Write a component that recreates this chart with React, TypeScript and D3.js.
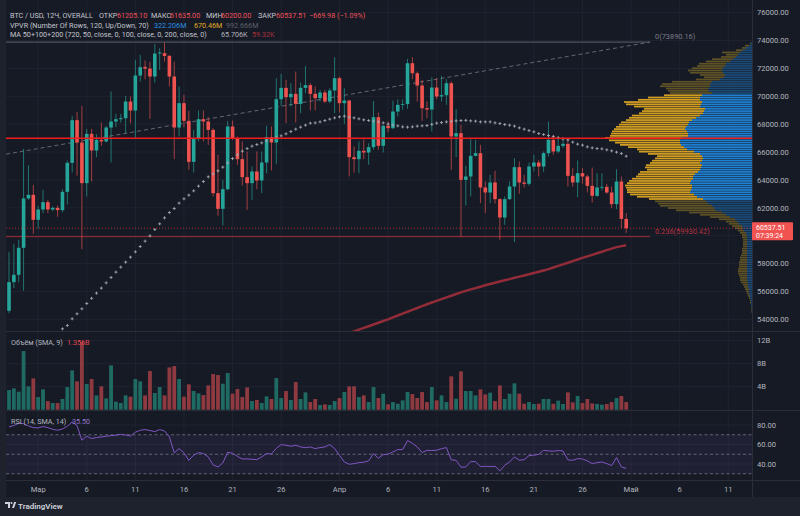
import React, { useEffect } from "react";
import * as d3 from "d3";

// [open, high, low, close] per 12h bar, first bar = 27 Feb 00:00
const candles: [number, number, number, number][] = [
  [54611, 58843, 54444, 56667], [56667, 59417, 56237, 57193], [57193, 59704, 56667, 59130], [59130, 66231, 56046, 62669],
  [62669, 65060, 62573, 62932], [62932, 63649, 60134, 61139], [61139, 62143, 60517, 61880], [61880, 63290, 61617, 62406],
  [62406, 62573, 61617, 61880], [61880, 62100, 61760, 61999], [61999, 62167, 61354, 61832], [61832, 63338, 61665, 63147],
  [63147, 65395, 62238, 65227], [65227, 68599, 64534, 68288], [68288, 68886, 64295, 66686], [66686, 69316, 59035, 63769],
  [63769, 67666, 62812, 67307], [67307, 67666, 63888, 66112], [66112, 67283, 65634, 66877], [66877, 68120, 66447, 66760],
  [66760, 67881, 66700, 67762], [67762, 70344, 65251, 68192], [68192, 68742, 67786, 68359], [68359, 68742, 68120, 68431],
  [68431, 70033, 67355, 69627], [69627, 69985, 68072, 68981], [68981, 72615, 67017, 71492], [71492, 72974, 71061, 72089],
  [72113, 72568, 71229, 71994], [71994, 72472, 68383, 71420], [71420, 73763, 70989, 73070], [73070, 73452, 71900, 73142],
  [73094, 73859, 72496, 72902], [72902, 72974, 70700, 71420], [71420, 72496, 65490, 67762], [67762, 70703, 67116, 69507],
  [69507, 70105, 67762, 68240], [68240, 68957, 64725, 65299], [65299, 67594, 64534, 66949], [66949, 68981, 66757, 68359],
  [68359, 68981, 66757, 68192], [68192, 68503, 66518, 67594], [67594, 67714, 62812, 63051], [63051, 65801, 61426, 61928],
  [61928, 64008, 60732, 63338], [63338, 68240, 63243, 67834], [67834, 68264, 66877, 66997], [66997, 67116, 65084, 65490],
  [65490, 66757, 63601, 64199], [64199, 66040, 61856, 63769], [63769, 64964, 62573, 64606], [64606, 66040, 63338, 63960],
  [63960, 66040, 63051, 65251], [65251, 67881, 64486, 67068], [67068, 67834, 64677, 66686], [66686, 71301, 65156, 69794],
  [69794, 71611, 69316, 70607], [70607, 71181, 68072, 69938], [69938, 70942, 69268, 70177], [70177, 71779, 68120, 69459],
  [69459, 70989, 68790, 70607], [70607, 72185, 70224, 70798], [70798, 70942, 68981, 70177], [70177, 70703, 68981, 69866],
  [69866, 70464, 69627, 70272], [70272, 70464, 69507, 69627], [69627, 70583, 69507, 70416], [70416, 72807, 68790, 71301],
  [71301, 71420, 68838, 69507], [69507, 70583, 68025, 69698], [69698, 69746, 64247, 65634], [65634, 66399, 64534, 65490],
  [65490, 66757, 64486, 66088], [66088, 66925, 65490, 65969], [65969, 66638, 65084, 66351], [66351, 69674, 66160, 68503],
  [68503, 68838, 66160, 66447], [66447, 67953, 65969, 67881], [67881, 68192, 67403, 67714], [67714, 69698, 67642, 68909],
  [68909, 69794, 68551, 69387], [69387, 69794, 69030, 69440], [69440, 72687, 69101, 72376], [72376, 72807, 71229, 71659],
  [71659, 71779, 69627, 70774], [70774, 71181, 68240, 69148], [69148, 69627, 68431, 69053], [69053, 71372, 67475, 70631],
  [70631, 71301, 69794, 69985], [69985, 71468, 69627, 70081], [70081, 71229, 69387, 70942], [70942, 71061, 64725, 67116],
  [67116, 69077, 65634, 67355], [67355, 67953, 59943, 64008], [64008, 65012, 62167, 64247], [64247, 66925, 62812, 65729],
  [65729, 66880, 65680, 65920], [65920, 66518, 62334, 63458], [63458, 63888, 61617, 63099], [63099, 64367, 62334, 63816],
  [63816, 64653, 62300, 62621], [62621, 62692, 59704, 61306], [61306, 62812, 60780, 62621], [62621, 63888, 62570, 63529],
  [63529, 65562, 59537, 64916], [64916, 65323, 63003, 63816], [63816, 64367, 63458, 63721], [63721, 65251, 63577, 64964],
  [64964, 65801, 64606, 65251], [65251, 65442, 64247, 64964], [64964, 66040, 64582, 65920], [65920, 68192, 65681, 66877],
  [66877, 67236, 65801, 66040], [66040, 67164, 65920, 66447], [66447, 66997, 66280, 66590], [66590, 66877, 63529, 64295],
  [64295, 64845, 63529, 63816], [63816, 65394, 62764, 64486], [64486, 64845, 63721, 64247], [64247, 64367, 63099, 63577],
  [63577, 64893, 62382, 62860], [62860, 64486, 62780, 63458], [63458, 64486, 63240, 63505], [63505, 63721, 63003, 63099],
  [63099, 63529, 61975, 62262], [62262, 64773, 61904, 63888], [63888, 64247, 60541, 61205.1], [61205.1, 61635, 60200, 60537.51],
];

// volume in billions
const volumes = [
  3.42, 3.71, 3.13, 10.2, 4.06, 5.45, 2.2, 3.54, 1.5, 1.16,
  1.16, 1.86, 3.94, 6.84, 4.93, 11.8, 4.46, 5.33, 2.49, 4.06,
  1.97, 7.71, 1.39, 1.16, 2.49, 2.26, 5.33, 4.93, 2.49, 6.72,
  2.9, 3.94, 2.49, 7.36, 7.59, 5.33, 2.26, 4.41, 3.25, 2.84,
  2.55, 4.23, 6.2, 6.03, 4.52, 6.38, 2.78, 3.59, 2.2, 3.88,
  1.5, 1.68, 1.16, 2.32, 1.86, 5.5, 2.03, 3.25, 1.68, 4.81,
  1.86, 3.01, 1.33, 1.86, 0.81, 0.93, 0.81, 1.5, 2.03, 3.07,
  4.06, 4.06, 2.2, 2.49, 1.33, 3.94, 2.03, 2.78, 0.93, 1.33,
  1.04, 1.62, 3.07, 2.72, 2.03, 3.07, 1.33, 3.94, 1.62, 2.49,
  1.33, 5.8, 1.91, 6.67, 3.25, 3.25, 2.49, 3.54, 2.67, 2.96,
  1.5, 4.23, 1.86, 2.78, 4.58, 2.78, 1.04, 1.33, 0.99, 1.04,
  1.86, 1.86, 1.04, 1.57, 0.99, 3.01, 1.28, 2.38, 1.16, 1.86,
  1.1, 0.99, 0.87, 0.99, 1.33, 2.03, 2.38, 1.33,
];

const rsi = [
  78.0, 79.4, 81.8, 81.4, 79.0, 77.3, 77.0, 78.4, 77.3, 75.6,
  74.6, 75.9, 78.7, 83.2, 79.4, 64.4, 68.5, 66.1, 67.1, 67.8,
  68.5, 69.1, 69.5, 70.5, 69.8, 68.8, 72.6, 74.6, 75.3, 74.3,
  73.2, 75.3, 73.9, 67.8, 51.4, 55.8, 51.4, 43.8, 49.0, 51.7,
  50.7, 47.3, 39.0, 37.0, 41.1, 52.0, 51.0, 47.9, 45.2, 45.2,
  44.9, 44.5, 47.3, 50.7, 50.3, 56.1, 59.9, 59.2, 58.2, 59.2,
  57.5, 56.8, 57.5, 55.8, 56.8, 57.5, 59.9, 55.8, 49.0, 42.1,
  39.7, 40.4, 41.4, 41.8, 43.2, 50.7, 45.9, 49.6, 50.0, 52.4,
  54.8, 54.8, 64.0, 61.3, 57.5, 51.7, 54.1, 53.8, 54.1, 55.8,
  56.8, 44.2, 43.8, 36.7, 37.0, 42.5, 42.5, 37.3, 37.7, 37.3,
  37.7, 32.9, 38.7, 42.1, 47.3, 43.8, 44.5, 48.6, 49.0, 50.0,
  54.1, 53.4, 53.1, 53.8, 53.4, 44.2, 43.8, 45.5, 45.2, 43.1,
  40.4, 41.4, 42.1, 40.4, 38.4, 46.6, 37.0, 35.5,
];

const ma50Start = 11;
const ma50 = [
  53317, 53554, 54035, 54393, 54752, 55132, 55505, 55878, 56237, 56617,
  56998, 57385, 57744, 58102, 58461, 58841, 59222, 59609, 59989, 60441,
  60850, 61281, 61661, 61948, 62335, 62644, 62909, 63217, 63555, 63885,
  64222, 64437, 64652, 64918, 65226, 65535, 65800, 66066, 66252, 66424,
  66539, 66661, 66804, 66948, 67056, 67163, 67307, 67472, 67644, 67787,
  67931, 68074, 68096, 68167, 68261, 68361, 68454, 68526, 68576, 68505,
  68454, 68383, 68311, 68261, 68218, 68167, 68096, 68003, 67938, 67881,
  67809, 67787, 67809, 67859, 67881, 67902, 67988, 68074, 68117, 68167,
  68203, 68239, 68261, 68275, 68239, 68218, 68167, 68167, 68167, 68096,
  68046, 67974, 67931, 67859, 67737, 67644, 67543, 67450, 67328, 67256,
  67185, 67113, 67020, 66948, 66876, 66711, 66568, 66496, 66374, 66302,
  66252, 66231, 66159, 66087, 65994, 65893, 65706,
];

const ma200Start = 70;
const ma200 = [
  53016, 53138, 53260, 53382, 53504, 53626, 53755, 53877, 53999, 54135,
  54271, 54408, 54544, 54673, 54810, 54946, 55082, 55204, 55326, 55448,
  55570, 55692, 55814, 55936, 56043, 56144, 56237, 56338, 56438, 56531,
  56625, 56711, 56797, 56883, 56976, 57062, 57148, 57234, 57320, 57414,
  57507, 57600, 57715, 57830, 57945, 58059, 58174, 58289, 58404, 58519,
  58626, 58741, 58848, 58963, 59071, 59179, 59250, 59320,
];

// visible range volume profile, 120 rows, top row first
const vpUp = [
  1, 3, 6, 9, 12, 14, 16, 19, 22, 26,
  27, 29, 30, 29, 27, 28, 32, 40, 42, 42,
  44, 43, 40, 50, 52, 52, 50, 51, 52, 47,
  48, 49, 52, 56, 60, 63, 64, 66, 67, 65,
  64, 64, 70, 72, 72, 71, 68, 65, 58, 52,
  50, 49, 50, 52, 50, 51, 52, 54, 57, 59,
  59, 61, 62, 60, 60, 61, 62, 58, 55, 49,
  46, 44, 40, 38, 36, 30, 26, 22, 17, 15,
  13, 10, 9, 8, 6, 5, 5, 5, 5, 5,
  5, 5, 5, 5, 5, 5, 5, 5, 5, 5,
  5, 5, 5, 5, 5, 5, 4, 4, 4, 3,
  3, 3, 2, 2, 1, 1, 1, 0.5, 0.5, 0.5,
];
const vpDown = [
  1, 4, 4, 7, 18, 12, 15, 21, 24, 27,
  28, 31, 34, 33, 25, 20, 24, 40, 48, 50,
  42, 41, 42, 38, 52, 62, 78, 75, 66, 61,
  62, 64, 68, 67, 66, 68, 69, 70, 71, 75,
  77, 78, 77, 71, 65, 61, 56, 50, 55, 52,
  45, 48, 50, 50, 56, 56, 53, 58, 57, 57,
  61, 62, 63, 67, 66, 64, 63, 64, 60, 54,
  51, 50, 52, 46, 40, 33, 26, 20, 16, 11,
  10, 10, 8, 6, 6, 5, 5, 4, 4, 4,
  4, 5, 5, 5, 6, 7, 7, 8, 8, 8,
  9, 9, 9, 8, 7, 7, 7, 5, 4, 4,
  3, 2, 2, 1, 1, 1, 0, 0.5, 0.5, 0.5,
];
const valueArea = [23, 69];

const priceTicks = d3.range(54000, 76001, 2000);
const volTicks = [4, 8, 12];
const rsiTicks = [40, 60, 80];
const rsiLevels = [70, 50, 30];
const timeTicks = [6, 16, 26, 36, 46, 56, 68, 78, 88, 98, 108, 118, 128, 138, 148];
const timeLabels = ["Мар", "6", "11", "16", "21", "26", "Апр", "6", "11", "16", "21", "26", "Май", "6", "11"];

const fibHigh = 73890.16;
const fib236 = 59930.42;
const trendLine: [number, number][] = [[-0.6, 65850], [131.9, 73890.16]];
const lastPrice = 60537.51;

const UP = "#26a69a";
const DOWN = "#ef5350";
const FONT = "Roboto, 'Noto Sans', sans-serif";

export default function App() {
  useEffect(() => {
    document.body.style.margin = "0";
    document.body.style.background = "#1e222d";
  }, []);

  const left = 6, axisX = 752;
  const x = d3.scaleLinear().domain([0, 128]).range([9, 631.08]);
  const y = d3.scaleLinear().domain([54000, 76000]).range([319.3, 12.7]);
  const yVol = d3.scaleLinear().domain([0, 12]).range([409.7, 340.7]);
  const yRsi = d3.scaleLinear().domain([40, 80]).range([464, 425]);

  const bw = 3.6;

  // volume profile geometry
  const vpHigh = d3.max(candles, (c) => c[1]) as number;
  const vpLow = d3.min(candles, (c) => c[2]) as number;
  const rows = vpUp.length;
  const step = (vpHigh - vpLow) / rows;
  const totals = vpUp.map((u, i) => u + vpDown[i]);
  const vpX = d3.scaleLinear().domain([0, d3.max(totals) as number]).range([0, 147]);
  const pocRow = d3.maxIndex(totals);
  const pocPrice = vpHigh - (pocRow + 0.5) * step;

  const ma200Line = d3
    .line<number>()
    .x((_, i) => x(i + ma200Start))
    .y((d) => y(d));
  const rsiLine = d3
    .line<number>()
    .x((_, i) => x(i))
    .y((d) => yRsi(d));

  const fmt = d3.format(".2f");
  const lp = y(lastPrice);
  // the last-price badge hides tick labels that fall under it
  const visiblePriceTicks = priceTicks.filter((p) => Math.abs(y(p) - (lp + 3)) > 13);

  return (
    <svg width={800} height={516} style={{ display: "block", position: "fixed", left: 0, top: 0 }} fontFamily={FONT}>
      <defs>
        <clipPath id="pricePane">
          <rect x={left} y={0} width={axisX - left} height={331} />
        </clipPath>
        <clipPath id="rsiPane">
          <rect x={left} y={411} width={axisX - left} height={69} />
        </clipPath>
      </defs>
      <rect width={800} height={516} fill="#1e222d" />
      <rect x={left} y={0} width={800 - left} height={497} fill="#161a25" />

      {/* grid */}
      <g stroke="#1f2330" strokeWidth={1}>
        {priceTicks.map((p) => (
          <line key={"hp" + p} x1={left} x2={axisX} y1={y(p)} y2={y(p)} />
        ))}
        {volTicks.map((v) => (
          <line key={"hv" + v} x1={left} x2={axisX} y1={yVol(v)} y2={yVol(v)} />
        ))}
        {rsiTicks.map((v) => (
          <line key={"hr" + v} x1={left} x2={axisX} y1={yRsi(v)} y2={yRsi(v)} />
        ))}
        {timeTicks.map((t) => (
          <line key={"vt" + t} x1={x(t)} x2={x(t)} y1={0} y2={480} />
        ))}
      </g>

      {/* pane separators and axis border */}
      <g stroke="#2a2e39" strokeWidth={1}>
        <line x1={left} x2={800} y1={331.5} y2={331.5} />
        <line x1={left} x2={800} y1={410.5} y2={410.5} />
        <line x1={left} x2={800} y1={480.5} y2={480.5} />
        <line x1={axisX + 0.5} x2={axisX + 0.5} y1={0} y2={497} />
      </g>

      <g clipPath="url(#pricePane)">
        {/* volume profile */}
        {vpUp.map((u, r) => {
          const top = y(vpHigh - r * step);
          const h = y(vpHigh - (r + 1) * step) - top;
          const inVA = r >= valueArea[0] && r <= valueArea[1];
          const wu = vpX(u);
          const wd = vpX(vpDown[r]);
          return (
            <g key={"vp" + r}>
              <rect x={axisX - wu} y={top} width={wu} height={Math.max(h - 0.5, 0.5)} fill={inVA ? "#1f7fd0" : "#1c4a76"} />
              <rect x={axisX - wu - wd} y={top} width={wd} height={Math.max(h - 0.5, 0.5)} fill={inVA ? "#d29e22" : "#5e5226"} />
            </g>
          );
        })}

        {/* fib levels and trend line */}
        <line x1={left} x2={650} y1={y(fibHigh)} y2={y(fibHigh)} stroke="#5d606b" strokeWidth={1} />
        <line x1={left} x2={650} y1={y(fib236)} y2={y(fib236)} stroke="#a62a36" strokeWidth={1} />
        <line
          x1={x(trendLine[0][0])}
          y1={y(trendLine[0][1])}
          x2={x(trendLine[1][0])}
          y2={y(trendLine[1][1])}
          stroke="#787b86"
          strokeWidth={1}
          strokeDasharray="4 3"
          opacity={0.8}
        />

        {/* MA 200 */}
        <path d={ma200Line(ma200) || ""} fill="none" stroke="#922c38" strokeWidth={2.5} />

        {/* candles */}
        {candles.map(([o, h, l, c], i) => {
          const col = c >= o ? UP : DOWN;
          const top = y(Math.max(o, c));
          const bh = Math.max(y(Math.min(o, c)) - top, 0.8);
          return (
            <g key={"c" + i}>
              <line x1={x(i)} x2={x(i)} y1={y(h)} y2={y(l)} stroke={col} strokeWidth={1} opacity={0.65} />
              <rect x={x(i) - bw / 2} y={top} width={bw} height={bh} fill={col} />
            </g>
          );
        })}

        {/* MA 50 crosses */}
        <g stroke="#a3a6af" strokeWidth={0.9}>
          {ma50.map((v, i) => {
            const cx = x(i + ma50Start);
            const cy = y(v);
            return (
              <g key={"m" + i}>
                <line x1={cx - 1.5} x2={cx + 1.5} y1={cy} y2={cy} />
                <line x1={cx} x2={cx} y1={cy - 1.5} y2={cy + 1.5} />
              </g>
            );
          })}
        </g>

        {/* POC line */}
        <line x1={left} x2={axisX} y1={y(pocPrice)} y2={y(pocPrice)} stroke="#f21b1b" strokeWidth={1.5} />
        {/* last price line */}
        <line x1={left} x2={axisX} y1={lp} y2={lp} stroke="#f23645" strokeWidth={1} strokeDasharray="1 2" opacity={0.7} />
      </g>

      {/* fib labels */}
      <text x={655} y={y(fibHigh) - 3} fontSize={7.4} fill="#787b86">0({fibHigh.toFixed(2)})</text>
      <text x={655} y={y(fib236) - 3} fontSize={7.4} fill="#b8323f">0.236({fib236.toFixed(2)})</text>

      {/* volume pane */}
      {volumes.map((v, i) => {
        const [o, , , c] = candles[i];
        return (
          <rect
            key={"v" + i}
            x={x(i) - 1.9}
            y={yVol(v)}
            width={3.8}
            height={yVol(0) - yVol(v)}
            fill={c >= o ? "#1f6a62" : "#8f3940"}
          />
        );
      })}

      {/* RSI pane */}
      <rect x={left} y={yRsi(70)} width={axisX - left} height={yRsi(30) - yRsi(70)} fill="rgba(126,87,194,0.1)" />
      {rsiLevels.map((l) => (
        <line key={"rl" + l} x1={left} x2={axisX} y1={yRsi(l)} y2={yRsi(l)} stroke="#787b86" strokeDasharray="3 2.5" strokeWidth={1} opacity={0.75} />
      ))}
      <g clipPath="url(#rsiPane)">
        <path d={rsiLine(rsi) || ""} fill="none" stroke="#7e57c2" strokeWidth={1} />
      </g>

      {/* price axis */}
      <g fontSize={7.6} fill="#b2b5be">
        {visiblePriceTicks.map((p) => (
          <text key={"pl" + p} x={757} y={y(p) + 2.7}>{fmt(p)}</text>
        ))}
        {volTicks.map((v) => (
          <text key={"vl" + v} x={757} y={yVol(v) + 2.7}>{v}B</text>
        ))}
        {rsiTicks.map((v) => (
          <text key={"rl" + v} x={757} y={yRsi(v) + 2.7}>{fmt(v)}</text>
        ))}
      </g>
      <rect x={752} y={lp - 6} width={41} height={18} fill="#f05350" rx={1} />
      <text x={756} y={lp + 1.4} fontSize={7} fill="#ffffff">{fmt(lastPrice)}</text>
      <text x={756} y={lp + 9.8} fontSize={7} fill="#ffffff">07:39:24</text>

      {/* time axis */}
      <g fontSize={7.6} fill="#b2b5be" textAnchor="middle">
        {timeTicks.map((t, i) => (
          <text key={"tl" + t} x={x(t)} y={491.5}>{timeLabels[i]}</text>
        ))}
      </g>

      {/* legends */}
      <g fontSize={7.2}>
        <text x={10} y={18.3} fill="#c3c6ce">BTC / USD, 12Ч, OVERALL</text>
        <text x={99} y={18.3} fill="#c3c6ce">ОТКР</text>
        <text x={117} y={18.3} fill="#f0525c">61205.10</text>
        <text x={151} y={18.3} fill="#c3c6ce">МАКС</text>
        <text x={170} y={18.3} fill="#f0525c">61635.00</text>
        <text x={206} y={18.3} fill="#c3c6ce">МИН</text>
        <text x={221} y={18.3} fill="#f0525c">60200.00</text>
        <text x={258} y={18.3} fill="#c3c6ce">ЗАКР</text>
        <text x={276} y={18.3} fill="#f0525c">60537.51</text>
        <text x={309} y={18.3} fill="#f0525c">−669.98 (−1.09%)</text>

        <text x={10} y={27.6} fill="#c3c6ce">VPVR (Number Of Rows, 120, Up/Down, 70)</text>
        <text x={154} y={27.6} fill="#2b8fe0">322.206M</text>
        <text x={194} y={27.6} fill="#e0ac2a">670.46M</text>
        <text x={226} y={27.6} fill="#5d606b">992.666M</text>

        <text x={10} y={36.9} fill="#c3c6ce">MA 50+100+200 (720, 50, close, 0, 100, close, 0, 200, close, 0)</text>
        <text x={221} y={36.9} fill="#b2b5be">65.706K</text>
        <text x={252} y={36.9} fill="#a8303d">59.32K</text>

        <text x={11} y={344.5} fill="#b2b5be">Объём (SMA, 9)</text>
        <text x={67} y={344.5} fill="#e0484f">1.356B</text>
        <text x={11} y={424} fill="#b2b5be">RSI (14, SMA, 14)</text>
        <text x={72} y={424} fill="#9575cd">35.50</text>
      </g>

      {/* footer logo */}
      <g fill="#d1d4dc">
        <path d="M5 502 h5 v6 h-2 v-4 h-3 z" />
        <circle cx={11.5} cy={503} r={1} />
        <path d="M12 508 l2.2 -6 h2 l-2.2 6 z" />
        <text x={18} y={509} fontSize={8} fontWeight={600}>TradingView</text>
      </g>
    </svg>
  );
}
